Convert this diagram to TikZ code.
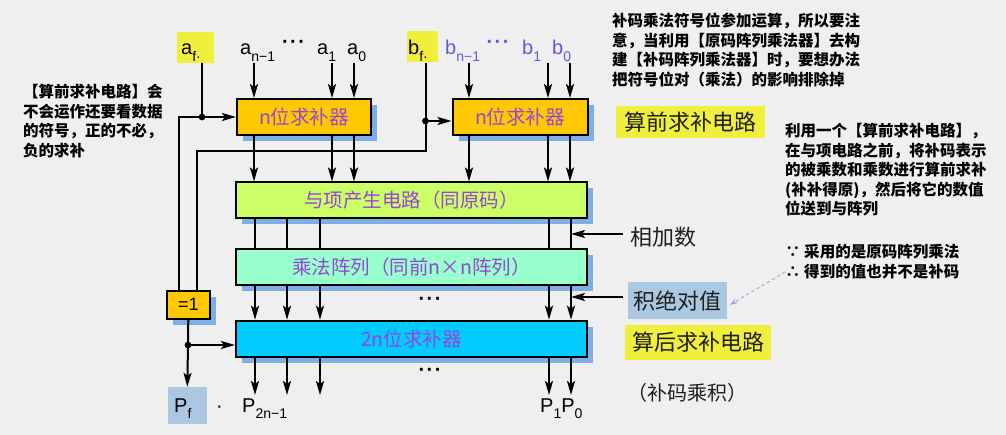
\documentclass[tikz,border=0pt]{standalone}
\usepackage{fontspec}
\setmainfont{Liberation Sans}
\newfontfamily\cjk{Noto Sans CJK SC}
\usetikzlibrary{arrows.meta,shadows}
\definecolor{bgc}{RGB}{239,239,239}
\definecolor{orangec}{RGB}{255,200,0}
\definecolor{greenc}{RGB}{204,255,102}
\definecolor{aquac}{RGB}{153,255,204}
\definecolor{cyanc}{RGB}{0,204,255}
\definecolor{boxtext}{RGB}{150,70,215}
\definecolor{shadowc}{RGB}{125,175,230}
\definecolor{yellowc}{RGB}{240,240,60}
\definecolor{lbluec}{RGB}{170,200,225}
\definecolor{bluetext}{RGB}{90,90,230}
\definecolor{dashc}{RGB}{150,170,220}
\definecolor{darktext}{RGB}{30,30,30}
\newcommand\sbs[1]{\raisebox{-0.34em}{\fontsize{14}{14}\selectfont #1}}
\begin{document}
\begin{tikzpicture}[x=1pt,y=-1pt,
  ln/.style={line width=2pt},
  arr/.style={line width=2pt,-{Stealth[length=14pt,width=8pt,inset=3pt]}},
  box/.style={draw=black,line width=2pt,minimum height=36pt,inner sep=0pt,
    text=boxtext,font=\cjk\fontsize{19.5}{20}\selectfont,
    drop shadow={shadow xshift=6pt,shadow yshift=-6pt,fill=shadowc,opacity=1}},
  lab/.style={inner sep=0pt,font=\fontsize{20}{21}\selectfont,anchor=base west},
  tagbox/.style={inner sep=0pt,fill=#1},
  note/.style={inner sep=0pt,align=left,anchor=north west,
    font=\cjk\bfseries\fontsize{15.5}{19.5}\selectfont},
  big/.style={inner sep=0pt,font=\cjk\fontsize{22}{24}\selectfont,text=darktext},
  dotsn/.style={inner sep=0pt,font=\bfseries\fontsize{20}{20}\selectfont},
  jdot/.style={fill=black}
]
\fill[bgc] (0,0) rectangle (1006,435);
\useasboundingbox (0,0) rectangle (1006,435);

% ---- main boxes
\node[box,fill=orangec,minimum width=134pt] (box1) at (304,117) {n位求补器};
\node[box,fill=orangec,minimum width=135pt] (box2) at (520,117) {n位求补器};
\node[box,fill=greenc,minimum width=351pt] (box3) at (411.5,200.5) {与项产生电路（同原码）};
\node[box,fill=aquac,minimum width=351pt] (box4) at (411.5,267) {乘法阵列（同前n×n阵列）};
\node[box,fill=cyanc,minimum width=351pt] (box5) at (411.5,338.7) {2n位求补器};
\node[box,fill=orangec,text=black,minimum width=43pt,minimum height=28pt,
  font=\fontsize{18}{18}\selectfont] (eq) at (188.3,304.7) {=1};

% ---- input labels
\node[tagbox=yellowc,minimum width=37pt,minimum height=31pt] (af) at (195.5,47.5) {};
\node[lab] (aftxt) at (181,55) {a\sbs{f·}};
\node[tagbox=yellowc,minimum width=31pt,minimum height=31pt] (bf) at (422,47) {};
\node[lab] (bftxt) at (408,55) {b\sbs{f·}};
\node[lab] (an1) at (240,55) {a\sbs{n−1}};
\node[lab] (a1) at (317,55) {a\sbs{1}};
\node[lab] (a0) at (347,55) {a\sbs{0}};
\node[lab,text=bluetext] (bn1) at (445,55) {b\sbs{n−1}};
\node[lab,text=bluetext] (b1) at (522,55) {b\sbs{1}};
\node[lab,text=bluetext] (b0) at (552,55) {b\sbs{0}};
\node[dotsn] (dt1) at (293.5,44) {·\hspace{1.5pt}·\hspace{1.5pt}·};
\node[dotsn,text=bluetext] (dt2) at (498,44) {·\hspace{1.5pt}·\hspace{1.5pt}·};
\node[dotsn] (dt3) at (430,301) {·\hspace{1.5pt}·\hspace{1.5pt}·};
\node[dotsn] (dt4) at (430,372) {·\hspace{1.5pt}·\hspace{1.5pt}·};

% ---- output labels
\node[tagbox=lbluec,minimum width=38.7pt,minimum height=37pt] (pf) at (187.3,405.5) {};
\node[lab] (pftxt) at (174,412) {P\sbs{f}};
\node[lab] (pdot) at (216,412) {·};
\node[lab] (p2n) at (242,412) {P\sbs{2n−1}};
\node[lab] (p10) at (540,412) {P\sbs{1}P\sbs{0}};

% ---- columns
\coordinate (ta1) at (254,0);
\coordinate (ta2) at (332,0);
\coordinate (ta3) at (354,0);
\coordinate (tb1) at (469,0);
\coordinate (tb2) at (548,0);
\coordinate (tb3) at (570,0);
\coordinate (l1) at (255,0);
\coordinate (l2) at (287,0);
\coordinate (l3) at (320,0);
\coordinate (l4) at (549,0);
\coordinate (l5) at (571,0);
\coordinate (inrow) at (0,63);
\coordinate (outrow) at (0,395);

\foreach \c in {ta1,ta2,ta3}{
  \draw[arr] (\c |- inrow) -- (\c |- box1.north);
  \draw[arr] (\c |- box1.south) -- (\c |- box3.north);
}
\foreach \c in {tb1,tb2,tb3}{
  \draw[arr] (\c |- inrow) -- (\c |- box2.north);
  \draw[arr] (\c |- box2.south) -- (\c |- box3.north);
}
\foreach \c in {l1,l2,l3,l4,l5}{
  \draw[ln] (\c |- box3.south) -- (\c |- box4.north);
  \draw[arr] (\c |- box4.south) -- (\c |- box5.north);
  \draw[arr] (\c |- box5.south) -- (\c |- outrow);
}

% ---- sign wiring
\coordinate (dA) at (202,117);
\coordinate (dB) at (425.5,121);
\coordinate (cB) at (425.5,151);
\coordinate (dP) at (188,345);
\draw[ln] (dA |- af.south) -- (dA);
\draw[arr] (dA) -- (dA -| box1.west);
\draw[ln] (dA) -| ([xshift=-9pt]eq.north);
\draw[ln] (dB |- bf.south) -- (dB);
\draw[arr] (dB) -- (dB -| box2.west);
\draw[ln] (dB) -- (cB) -| ([xshift=9pt]eq.north);
\draw[ln] (eq.south) -- (dP);
\draw[arr] (dP) -- (dP -| box5.west);
\draw[arr] (dP) -- (pf.north);
\fill[jdot] (dA) circle (3.4pt);
\fill[jdot] (dB) circle (3.4pt);
\fill[jdot] (dP) circle (3.4pt);

% ---- right side labels
\node[note,anchor=north west] (note1) at (612,13) {补码乘法符号位参加运算，所以要注\\意，当利用【原码阵列乘法器】去构\\建【补码阵列乘法器】时，要想办法\\把符号位对（乘法）的影响排除掉};
\node[big,fill=yellowc,minimum width=149pt,minimum height=32pt] (pre) at (690.5,122) {算前求补电路};
\node[note,anchor=north west] (note2) at (785,123) {利用一个【算前求补电路】，\\在与项电路之前，将补码表示\\的被乘数和乘数进行算前求补\\(补补得原)，然后将它的数值\\位送到与阵列};
\node[big,anchor=west] (jia) at (630,237) {相加数};
\node[note,anchor=west] (because) at (785,252) {∵ 采用的是原码阵列乘法};
\node[note,anchor=west] (so) at (785,272) {∴ 得到的值也并不是补码};
\node[big,fill=lbluec,minimum width=99pt,minimum height=37pt] (jue) at (677,301) {积绝对值};
\node[big,fill=yellowc,minimum width=146pt,minimum height=35pt] (post) at (698,342.5) {算后求补电路};
\node[big,font=\cjk\fontsize{20}{22}\selectfont] (prod) at (687.5,393) {（补码乘积）};

\coordinate (jiaA) at (623,234);
\coordinate (jueA) at (623,297);
\draw[arr] (jiaA) -- (l5 |- jiaA);
\draw[arr] (jueA) -- (l5 |- jueA);
\draw[dashc,line width=1pt,dashed,-{Stealth[length=8pt,width=5pt]}] (so.west) -- ([xshift=3pt,yshift=-4pt]jue.east);

% ---- left note
\node[note,anchor=north west] (note0) at (23,84) {【算前求补电路】会\\不会运作还要看数据\\的符号，正的不必，\\负的求补};
\end{tikzpicture}
\end{document}
